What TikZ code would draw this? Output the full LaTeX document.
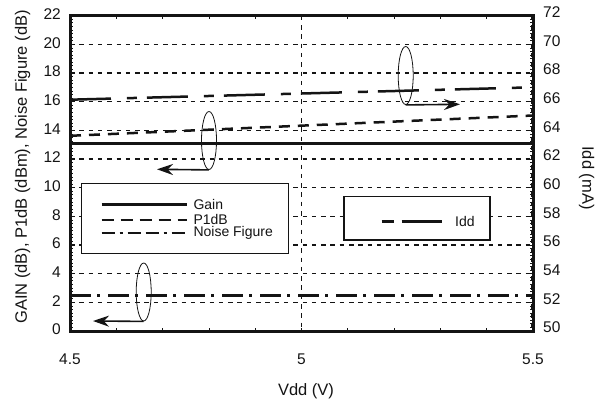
\documentclass[tikz,border=0pt]{standalone}
\usepackage{fontspec}
\setmainfont{Liberation Sans}
\usetikzlibrary{shapes.geometric,arrows.meta}
\definecolor{ink}{HTML}{141414}
\tikzset{
  frame/.style={line width=3pt, ink},
  gridln/.style={line width=1.5pt, ink, dash pattern=on 4.5pt off 4.8pt},
  gainln/.style={line width=2.5pt, ink},
  p1ln/.style={line width=2.5pt, ink, dash pattern=on 11pt off 8pt},
  nfln/.style={line width=2.5pt, ink, dash pattern=on 21pt off 6pt on 3pt off 8pt},
  iddln/.style={line width=2.5pt, ink, dash pattern=on 41pt off 16pt on 10pt off 10pt},
  legbox/.style={draw=ink, line width=1.3pt, fill=white, inner sep=0pt},
  oval/.style={ellipse, draw=ink, line width=0.8pt, inner sep=0pt, minimum width=15pt, minimum height=58pt},
  arr/.style={line width=1.6pt, ink, -{Stealth[length=16pt,width=11pt]}},
  ticklbl/.style={font=\fontsize{15.5}{18}\selectfont, text=ink, inner sep=0pt},
  axtitle/.style={font=\fontsize{16.5}{20}\selectfont, text=ink, inner sep=0pt},
  legtxt/.style={font=\fontsize{14}{17}\selectfont, text=ink, inner sep=0pt, anchor=west},
  minortick/.style={line width=0.8pt, ink}
}
\begin{document}
\begin{tikzpicture}[x=1pt,y=-1pt]
\path[use as bounding box] (0,0) rectangle (603,400);
% grid
\foreach \v in {2,4,...,20}
  \draw[gridln] (70,{331-\v*14.33}) -- (533,{331-\v*14.33});
\draw[gridln, line width=1.2pt] (301.5,15.7) -- (301.5,331);
\draw[gridln] (531.5,15.7) -- (531.5,331);
% minor ticks
\foreach \i in {1,...,9}{
  \draw[minortick] ({70+\i*46.3},331) -- ({70+\i*46.3},327.5);
  \draw[minortick] ({70+\i*46.3},15.7) -- ({70+\i*46.3},19.2);
}
\foreach \i in {1,...,87}{
  \draw[minortick] (70,{331-\i*3.583}) -- (73,{331-\i*3.583});
  \draw[minortick] (533,{331-\i*3.583}) -- (530,{331-\i*3.583});
}
% curves
\coordinate (gA) at (70,143.3); \coordinate (gB) at (533,143.3);
\coordinate (pA) at (70,135.8); \coordinate (pB) at (533,115.5);
\coordinate (nA) at (70,295.5); \coordinate (nB) at (533,295.5);
\coordinate (iA) at (70,99.7);  \coordinate (iB) at (533,87.3);
\draw[gainln] (gA) -- (gB);
\draw[p1ln] (pA) -- (pB);
\draw[nfln] (nA) -- (nB);
\draw[iddln] (iA) -- (iB);
% frame
\draw[frame] (70,15.7) rectangle (533,331);
% legends
\node[legbox, minimum width=207pt, minimum height=70pt] (leg1) at (185.3,218.3) {};
\coordinate (l1a) at (101.7,204.3); \coordinate (l1b) at (186.7,204.3);
\coordinate (l2a) at (101.7,220);   \coordinate (l2b) at (186.7,220);
\coordinate (l3a) at (101.7,233.3); \coordinate (l3b) at (186.7,233.3);
\draw[gainln] (l1a) -- (l1b);
\draw[p1ln, line width=2.2pt, dash pattern=on 12pt off 7pt] (l2a) -- (l2b);
\draw[nfln, line width=2.2pt, dash pattern=on 13pt off 5pt on 3pt off 5pt on 13pt off 5pt] (l3a) -- (l3b);
\node[legtxt] (tg) at (193.3,204.3) {Gain};
\node[legtxt] (tp) at (193.3,219) {P1dB};
\node[legtxt] (tn) at (193.3,233.3) {Noise Figure};
\node[legbox, minimum width=146pt, minimum height=43.3pt] (leg2) at (417,218.3) {};
\coordinate (l4a) at (381.7,221.7); \coordinate (l4b) at (441.7,221.7);
\draw[gainln, dash pattern=on 12pt off 8pt on 40pt] (l4a) -- (l4b);
\node[legtxt] (ti) at (455,221.7) {Idd};
% ovals and arrows
\node[oval] (o1) at (405.7,75.5) {};
\coordinate (a1) at (460,104.3);
\draw[arr] (o1.south) -- (a1);
\node[oval] (o2) at (209,140.5) {};
\coordinate (a2) at (157,169.3);
\draw[arr] (o2.south) -- (a2);
\node[oval] (o3) at (143.7,292) {};
\coordinate (a3) at (93,321);
\draw[arr] (o3.south) -- (a3);
% tick labels
\foreach \v in {0,2,...,22}
  \node[ticklbl, anchor=east] (yl\v) at (61,{331-\v*14.33-1.5}) {\v};
\foreach \v in {50,52,...,72}
  \node[ticklbl, anchor=west] (yr\v) at (543,{331-(\v-50)*14.33-3.5}) {\v};
\node[ticklbl] (x1) at (70,359) {4.5};
\node[ticklbl] (x2) at (301.5,359) {5};
\node[ticklbl] (x3) at (533,359) {5.5};
% axis titles
\node[axtitle] (xt) at (306,391) {Vdd (V)};
\node[axtitle, rotate=90] (yt) at (22.7,167) {GAIN (dB), P1dB (dBm), Noise Figure (dB)};
\node[axtitle, rotate=-90] (yt2) at (586.7,178) {Idd (mA)};
\end{tikzpicture}
\end{document}
